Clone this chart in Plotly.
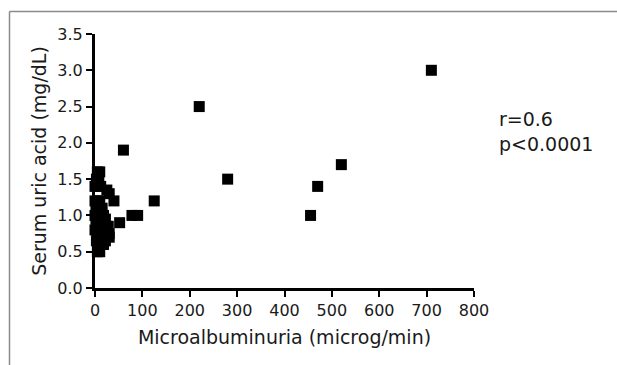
import plotly.graph_objects as go

# Data
microalb = [710, 220, 60, 280, 455, 470, 520, 125, 78, 90, 52, 40, 30, 25,
            5, 10, 3, 8, 0, 12, 0, 5, 10, 2, 8, 15,
            0, 5, 10, 18, 22, 3, 8, 14, 20, 28,
            0, 5, 10, 16, 22, 30, 5, 12, 20, 30, 8, 15, 22, 5, 10, 18, 25,
            2, 6, 12, 3, 12, 25, 18, 8, 14]
uric = [3.0, 2.5, 1.9, 1.5, 1.0, 1.4, 1.7, 1.2, 1.0, 1.0, 0.9, 1.2, 1.3, 1.35,
        1.6, 1.6, 1.5, 1.5, 1.4, 1.4, 1.2, 1.2, 1.2, 1.1, 1.1, 1.1,
        1.0, 1.0, 1.0, 1.0, 0.95, 0.9, 0.9, 0.9, 0.9, 0.85,
        0.8, 0.8, 0.8, 0.8, 0.8, 0.75, 0.7, 0.7, 0.7, 0.7, 0.6, 0.6, 0.65, 0.5, 0.5, 0.6, 0.75,
        0.95, 0.85, 0.9, 0.65, 0.6, 0.85, 0.75, 1.05, 1.05]

x_ticks = [0, 100, 200, 300, 400, 500, 600, 700, 800]
y_ticks = [0.0, 0.5, 1.0, 1.5, 2.0, 2.5, 3.0, 3.5]
y_tick_labels = ["0.0", "0.5", "1.0", "1.5", "2.0", "2.5", "3.0", "3.5"]
stats_text = "r=0.6<br>p<0.0001"

FONT = "DejaVu Sans, Verdana, sans-serif"
TXT = "#1a1a1a"

fig = go.Figure()
fig.add_trace(go.Scatter(
    x=microalb, y=uric, mode="markers",
    marker=dict(symbol="square", size=11, color="black", line=dict(width=0)),
    cliponaxis=False, showlegend=False, hoverinfo="skip",
))

L, R, T, B = 95, 143, 34, 77
W, H = 617, 365
pw, ph = W - L - R, H - T - B

def px(xp):
    return (xp - L) / pw

def py(yp):
    return (H - B - yp) / ph

fig.update_layout(
    width=W, height=H,
    margin=dict(l=L, r=R, t=T, b=B, pad=0),
    paper_bgcolor="white", plot_bgcolor="white",
    font=dict(family=FONT, color=TXT, size=16),
    xaxis=dict(
        range=[0, 800], tickvals=x_ticks, ticktext=[str(v) for v in x_ticks],
        showgrid=False, zeroline=False, showline=True, linecolor="black", linewidth=3,
        ticks="outside", ticklen=6, tickwidth=2, tickcolor="black",
        tickfont=dict(size=16, family=FONT, color=TXT), automargin=False,
        title=dict(text="Microalbuminuria (microg/min)", font=dict(size=19, family=FONT, color=TXT), standoff=12),
    ),
    yaxis=dict(
        range=[0, 3.5], tickvals=y_ticks, ticktext=y_tick_labels,
        showgrid=False, zeroline=False, showline=True, linecolor="black", linewidth=3,
        ticks="outside", ticklen=6, tickwidth=2, tickcolor="black",
        tickfont=dict(size=16, family=FONT, color=TXT), automargin=False,
        title=dict(text="Serum uric acid (mg/dL)", font=dict(size=19, family=FONT, color=TXT), standoff=6),
    ),
    shapes=[
        dict(type="line", xref="paper", yref="paper", x0=px(9.5), x1=px(620), y0=py(11.5), y1=py(11.5),
             line=dict(color="#8a8a8a", width=1.5)),
        dict(type="line", xref="paper", yref="paper", x0=px(9.5), x1=px(9.5), y0=py(11.5), y1=py(370),
             line=dict(color="#8a8a8a", width=1.5)),
    ],
    annotations=[
        dict(text=stats_text, xref="paper", yref="paper", x=px(497), y=py(131),
             xanchor="left", yanchor="middle", showarrow=False, align="left",
             font=dict(size=19, family=FONT, color=TXT)),
    ],
)

fig.write_html("out.html", config={"displayModeBar": False},
               post_script="document.body.style.margin='0';document.body.style.overflow='hidden';")
